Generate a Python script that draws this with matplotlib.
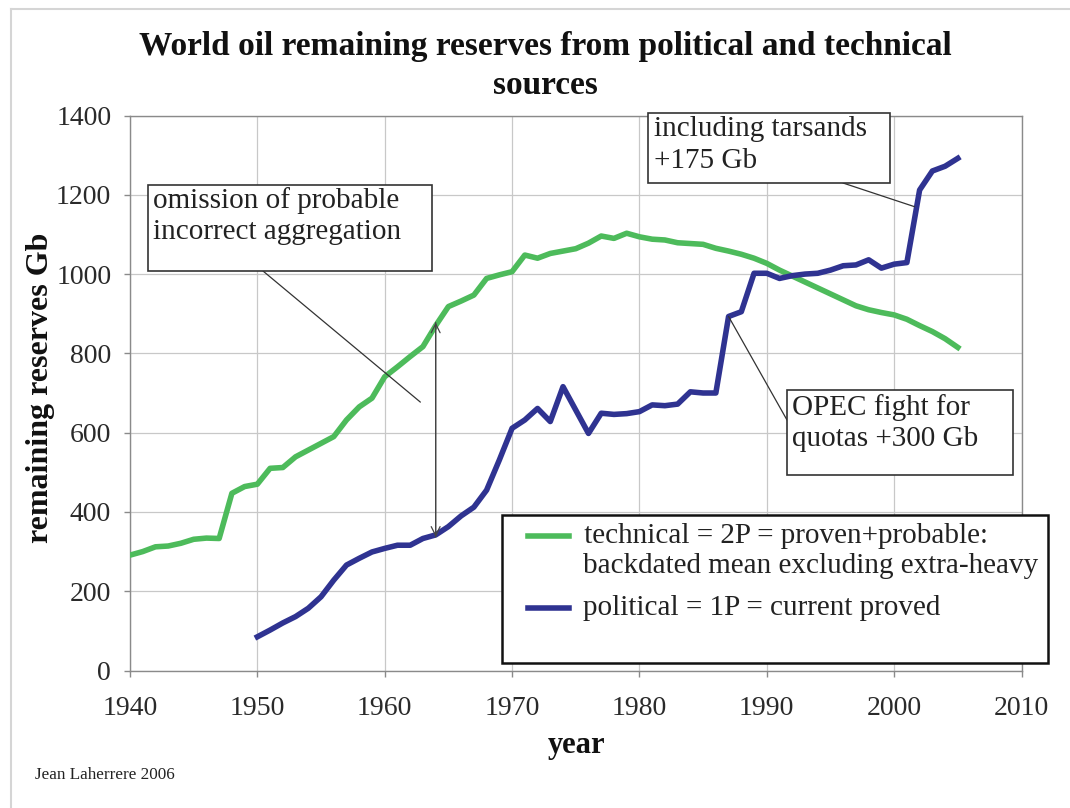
import matplotlib
matplotlib.use("Agg")
import matplotlib.pyplot as plt
from matplotlib.patches import Rectangle
from matplotlib.lines import Line2D

plt.rcParams['font.family'] = ['Liberation Serif', 'DejaVu Serif']

# ---------------- data ----------------
tech_years = list(range(1940, 2006))
tech_values = [291, 300, 312, 314, 321, 331, 334, 333, 447, 464,
               470, 510, 512, 539, 556, 573, 590, 632, 665, 687,
               741, 766, 792, 817, 870, 918, 932, 947, 989, 998,
               1006, 1048, 1040, 1052, 1058, 1064, 1078, 1096, 1090, 1103,
               1094, 1088, 1086, 1079, 1077, 1075, 1065, 1058, 1050, 1040,
               1027, 1010, 995, 980, 965, 950, 935, 920, 910, 903,
               897, 886, 870, 855, 837, 815]

pol_years = list(range(1950, 2006))
pol_values = [85, 102, 120, 136, 157, 186, 228, 266, 283, 299,
              308, 316, 316, 333, 342, 363, 390, 412, 455, 531,
              611, 632, 661, 628, 716, 657, 598, 649, 646, 648,
              653, 670, 668, 672, 703, 700, 700, 893, 905, 1002,
              1002, 989, 996, 1000, 1002, 1010, 1021, 1023, 1036, 1015,
              1025, 1029, 1212, 1260, 1272, 1292]

x_ticks = [1940, 1950, 1960, 1970, 1980, 1990, 2000, 2010]
y_ticks = [0, 200, 400, 600, 800, 1000, 1200, 1400]

title = "World oil remaining reserves from political and technical\nsources"
tech_label_1 = " technical = 2P = proven+probable:"
tech_label_2 = "backdated mean excluding extra-heavy"
pol_label = "political = 1P = current proved"
note_omission = "omission of probable\nincorrect aggregation"
note_tarsands = "including tarsands\n+175 Gb"
note_opec = "OPEC fight for\nquotas +300 Gb"

GREEN = "#4dbb5b"
BLUE = "#2f3391"

W, H = 1070, 808
fig = plt.figure(figsize=(W / 100, H / 100), dpi=100)

def fx(x):
    return x / W

def fy(y):
    return 1 - y / H

ax_left, ax_right, ax_top, ax_bottom = 130, 1021.5, 115.5, 670.5
ax = fig.add_axes([fx(ax_left), fy(ax_bottom), fx(ax_right - ax_left), (ax_bottom - ax_top) / H])

ax.plot(tech_years, tech_values, color=GREEN, lw=4.0, solid_joinstyle='round', zorder=3)
ax.plot(pol_years, pol_values, color=BLUE, lw=4.0, solid_joinstyle='round', zorder=3)

ax.set_xlim(1940, 2010)
ax.set_ylim(0, 1400)
ax.set_xticks(x_ticks)
ax.set_yticks(y_ticks)
ax.set_xticklabels([str(v) for v in x_ticks], fontsize=20)
ax.set_yticklabels([str(v) for v in y_ticks], fontsize=20)
ax.grid(True, color="#c8c8c8", lw=0.9, zorder=0)
for s in ax.spines.values():
    s.set_color("#8a8a8a")
    s.set_linewidth(1.0)
ax.tick_params(axis='both', direction='out', length=4.5, color="#8a8a8a", width=1.0,
               labelcolor="#2a2a2a")
ax.tick_params(axis='y', pad=9)
ax.tick_params(axis='x', pad=14)

# labels
fig.text(fx(545), fy(66), title, ha='center', va='center', fontsize=24,
         fontweight='bold', linespacing=1.35, color="#111111")
fig.text(fx(41), fy(388), "remaining reserves Gb", rotation=90, ha='center', va='center',
         fontsize=23, fontweight='bold', color="#111111")
fig.text(fx(577), fy(746), "year", ha='center', va='center', fontsize=22,
         fontweight='bold', color="#111111")
fig.text(fx(35), fy(775), "Jean Laherrere 2006", ha='left', va='center', fontsize=12.3,
         color="#222222")

# figure frame (light)
fig.add_artist(Line2D([fx(11), fx(11)], [fy(9), fy(808)], transform=fig.transFigure,
                      color="#d5d5d5", lw=1.5))
fig.add_artist(Line2D([fx(11), fx(1070)], [fy(9), fy(9)], transform=fig.transFigure,
                      color="#d5d5d5", lw=1.5))

def box(x0, y0, x1, y1, lw=1.2, ec="#333333"):
    r = Rectangle((fx(x0), fy(y1)), fx(x1 - x0), (y1 - y0) / H, transform=fig.transFigure,
                  facecolor="white", edgecolor=ec, lw=lw, zorder=5)
    fig.add_artist(r)

# annotation: omission
box(148, 185, 432, 271)
fig.text(fx(153), fy(216), note_omission, ha='left', va='center', fontsize=21,
         linespacing=1.25, color="#222222", zorder=6)
ax.annotate("", xy=(1962.8, 677), xycoords='data',
            xytext=(263, H - 271), textcoords='figure pixels',
            arrowprops=dict(arrowstyle='-', color="#333333", lw=0.9, shrinkA=0, shrinkB=0),
            zorder=4)

# double arrow at 1964 between series
i_t = tech_years.index(1964)
i_p = pol_years.index(1964)
ax.annotate("", xy=(1964, tech_values[i_t] + 8), xytext=(1964, pol_values[i_p] - 5),
            arrowprops=dict(arrowstyle='->', color="#444444", lw=0.9, shrinkA=0, shrinkB=0,
                            mutation_scale=16), zorder=4)
ax.annotate("", xy=(1964, pol_values[i_p] - 5), xytext=(1964, tech_values[i_t] + 8),
            arrowprops=dict(arrowstyle='->', color="#444444", lw=0.9, shrinkA=0, shrinkB=0,
                            mutation_scale=16), zorder=4)

# annotation: tarsands
box(648, 113, 890, 183)
fig.text(fx(654), fy(145), note_tarsands, ha='left', va='center', fontsize=21,
         linespacing=1.25, color="#222222", zorder=6)
ax.annotate("", xy=(2001.6, 1170), xycoords='data',
            xytext=(843, H - 183), textcoords='figure pixels',
            arrowprops=dict(arrowstyle='-', color="#333333", lw=0.9, shrinkA=0, shrinkB=0),
            zorder=4)

# annotation: OPEC
box(787, 390, 1013, 475)
fig.text(fx(792), fy(423), note_opec, ha='left', va='center', fontsize=21,
         linespacing=1.25, color="#222222", zorder=6)
i_o = pol_years.index(1987)
ax.annotate("", xy=(1987, pol_values[i_o]), xycoords='data',
            xytext=(787, H - 420), textcoords='figure pixels',
            arrowprops=dict(arrowstyle='-', color="#333333", lw=0.9, shrinkA=0, shrinkB=0),
            zorder=4)

# legend box
box(502, 515, 1048, 663, lw=1.8, ec="#111111")
fig.add_artist(Line2D([fx(528), fx(569)], [fy(536), fy(536)], transform=fig.transFigure,
                      color=GREEN, lw=4.0, zorder=6))
fig.add_artist(Line2D([fx(528), fx(569)], [fy(608), fy(608)], transform=fig.transFigure,
                      color=BLUE, lw=4.0, zorder=6))
fig.text(fx(577), fy(536), tech_label_1, ha='left', va='center', fontsize=21,
         color="#222222", zorder=6)
fig.text(fx(583), fy(566), tech_label_2, ha='left', va='center', fontsize=21,
         color="#222222", zorder=6)
fig.text(fx(583), fy(608), pol_label, ha='left', va='center', fontsize=21,
         color="#222222", zorder=6)

fig.savefig("out.png", dpi=100, facecolor="white")
